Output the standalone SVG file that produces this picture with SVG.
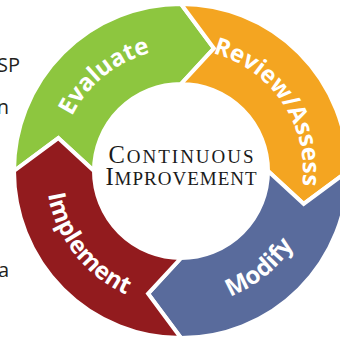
<svg xmlns="http://www.w3.org/2000/svg" xmlns:xlink="http://www.w3.org/1999/xlink" width="340" height="338" viewBox="0 0 340 338">
<style>
.seg{stroke:#fff;stroke-width:4;stroke-linejoin:miter}
.lbl{font-family:"Open Sans","DejaVu Sans",sans-serif;font-weight:700;font-size:24px;fill:#fff}
.ctr{font-family:"Liberation Serif","Times New Roman",serif;fill:#1a1a1a}
.side{font-family:"Open Sans","Liberation Sans",sans-serif;font-size:20px;fill:#231f20}
</style>
<defs>
<path id="pEval" d="M 60.5 190.1 A 122 122 0 0 1 224.7 57.1"/>
<path id="pRev" d="M 172.5 49.3 A 122 122 0 0 1 290.7 224.5"/>
<path id="pMod" d="M 132.6 297 A 135 135 0 0 0 314.3 149.9"/>
<path id="pImp" d="M 55.8 120.4 A 135 135 0 0 0 199.8 304.7"/>
</defs>
<rect width="340" height="338" fill="#fff"/>
<g id="background-text">
<text class="side" x="20" y="72" text-anchor="end">SP</text>
<text class="side" x="9" y="114" text-anchor="end">n</text>
<text class="side" x="9" y="277" text-anchor="end">a</text>
</g>
<g id="connectors"></g>
<g id="evaluate">
<path class="seg" fill="#8DC63F" d="M 14 171 A 167 167 0 0 1 181 4 L 213.9 48.3 L 181 84 A 87 87 0 0 0 94 171 L 58.3 138.1 Z"/>
<text class="lbl"><textPath xlink:href="#pEval" href="#pEval" startOffset="50%" text-anchor="middle">Evaluate</textPath></text>
</g>
<g id="review">
<path class="seg" fill="#F4A521" d="M 181 4 A 167 167 0 0 1 348 171 L 303.7 203.9 L 268 171 A 87 87 0 0 0 181 84 L 213.9 48.3 Z"/>
<text class="lbl"><textPath xlink:href="#pRev" href="#pRev" startOffset="50%" text-anchor="middle">Review/Assess</textPath></text>
</g>
<g id="modify">
<path class="seg" fill="#596B9C" d="M 348 171 A 167 167 0 0 1 181 338 L 148.1 293.7 L 181 258 A 87 87 0 0 0 268 171 L 303.7 203.9 Z"/>
<text class="lbl"><textPath xlink:href="#pMod" href="#pMod" startOffset="50%" text-anchor="middle">Modify</textPath></text>
</g>
<g id="implement">
<path class="seg" fill="#921B1E" d="M 181 338 A 167 167 0 0 1 14 171 L 58.3 138.1 L 94 171 A 87 87 0 0 0 181 258 L 148.1 293.7 Z"/>
<text class="lbl"><textPath xlink:href="#pImp" href="#pImp" startOffset="50%" text-anchor="middle">Implement</textPath></text>
</g>
<g id="center">
<text class="ctr" x="182" y="163" text-anchor="middle" letter-spacing="2"><tspan font-size="24.5">C</tspan><tspan font-size="19">ONTINUOUS</tspan></text>
<text class="ctr" x="181.5" y="185" text-anchor="middle" letter-spacing="1"><tspan font-size="24.5">I</tspan><tspan font-size="19">MPROVEMENT</tspan></text>
</g>
</svg>
